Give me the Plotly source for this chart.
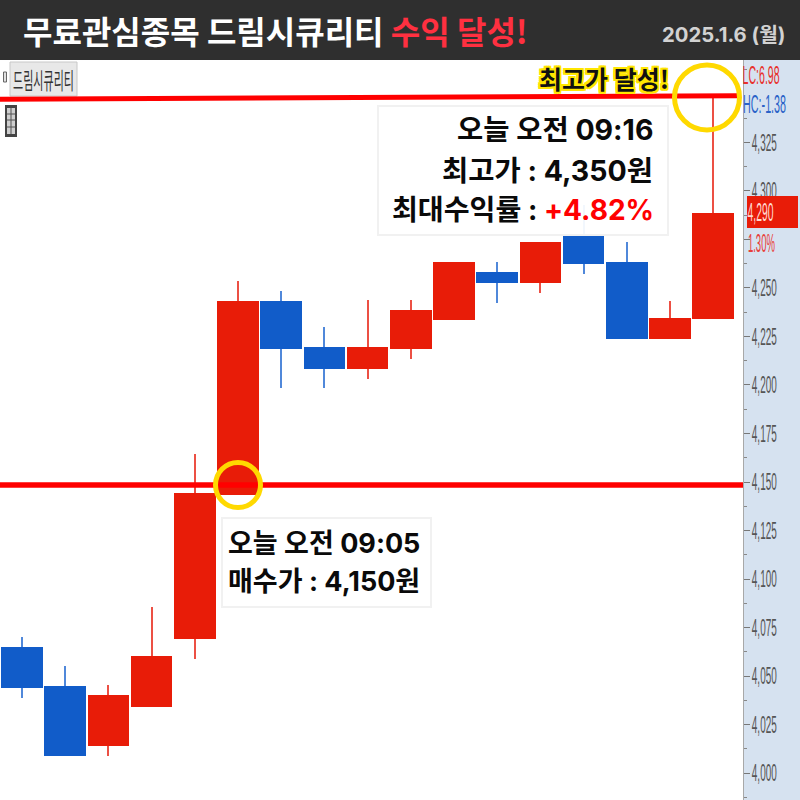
import plotly.graph_objects as go

# Candle data (prices)
opens  = [4064.9, 4044.8, 4013.9, 4034.0, 4069.1, 4143.3, 4243.3, 4219.6, 4208.2, 4218.6, 4233.5, 4258.2, 4252.6, 4277.3, 4263.4, 4223.7, 4234.0]
closes = [4043.8, 4008.8, 4040.2, 4060.3, 4144.3, 4243.3, 4218.6, 4208.2, 4219.6, 4238.7, 4263.4, 4252.6, 4273.7, 4262.4, 4223.7, 4234.5, 4288.7]
highs  = [4070.1, 4055.2, 4045.4, 4085.6, 4164.4, 4253.6, 4248.5, 4229.9, 4243.8, 4243.8, 4263.4, 4263.4, 4273.7, 4292.8, 4273.7, 4243.3, 4348.5]
lows   = [4038.7, 4008.8, 4008.8, 4034.0, 4058.8, 4143.3, 4198.5, 4198.5, 4203.1, 4213.4, 4233.5, 4242.3, 4247.4, 4257.2, 4223.7, 4223.7, 4234.0]

tick_vals = [4000, 4025, 4050, 4075, 4100, 4125, 4150, 4175, 4200, 4225, 4250, 4275, 4300, 4325]
tick_text = ["4,000", "4,025", "4,050", "4,075", "4,100", "4,125", "4,150", "4,175", "4,200", "4,225", "4,250", "", "4,300", "4,325"]

title_white = "무료관심종목 드림시큐리티"
title_red = "수익 달성!"
date_text = "2025.1.6 (월)"
stock_name = "드림시큐리티"
high_badge = "최고가 달성!"
high_lines = ["오늘 오전 09:16", "최고가 : 4,350원", "최대수익률 : <span style='color:#ff0000'>+4.82%</span>"]
buy_lines = ["오늘 오전 09:05", "매수가 : 4,150원"]

RED, BLUE = "#E81C08", "#115CC9"
WICK_RED, WICK_BLUE = "#EC5044", "#5088DA"
FONT = "Inter, 'Noto Sans CJK KR', sans-serif"
KR = "'Noto Sans CJK KR', sans-serif"
SANS = "'Liberation Sans', sans-serif"

xs = list(range(len(opens)))
up = [c >= o for o, c in zip(opens, closes)]

fig = go.Figure()
# wicks first, bodies on top
fig.add_trace(go.Bar(
    x=xs, y=[h - l for h, l in zip(highs, lows)], base=lows, width=0.02,
    marker=dict(color=[WICK_RED if u else WICK_BLUE for u in up], line_width=0),
    hoverinfo="skip", showlegend=False))
fig.add_trace(go.Bar(
    x=xs, y=[abs(c - o) for o, c in zip(opens, closes)], base=[min(o, c) for o, c in zip(opens, closes)], width=0.965,
    marker=dict(color=[RED if u else BLUE for u in up], line_width=0),
    hoverinfo="skip", showlegend=False))


def px(x):
    return x / 800


def py(y):
    return 1 - y / 800


def rect(x0, y0, x1, y1, fill, line=None, lw=0):
    return dict(type="rect", xref="paper", yref="paper", x0=px(x0), x1=px(x1), y0=py(y0), y1=py(y1),
                fillcolor=fill, line=dict(color=line or fill, width=lw), layer="above")


def seg(x0, y0, x1, y1, color, lw):
    return dict(type="line", xref="paper", yref="paper", x0=px(x0), x1=px(x1), y0=py(y0), y1=py(y1),
                line=dict(color=color, width=lw), layer="above")


def circ(cx, cy, r, color, lw):
    return dict(type="circle", xref="paper", yref="paper", x0=px(cx - r), x1=px(cx + r), y0=py(cy - r), y1=py(cy + r),
                line=dict(color=color, width=lw), fillcolor="rgba(0,0,0,0)", layer="above")


shapes = [
    rect(0, 0, 800, 60, "#2F2F2F"),
    rect(10, 62, 77, 96, "#E8E8E8", "#C8C8C8", 1),
    rect(3.5, 72, 6.5, 82, "#E0E0E0", "#666666", 1),
    rect(5, 105, 17, 137, "#444444"),
    rect(7, 108, 15, 134, "#CFCFCF"),
    seg(7, 114, 15, 114, "#555555", 1), seg(7, 120, 15, 120, "#555555", 1), seg(7, 127, 15, 127, "#555555", 1),
    seg(11, 108, 11, 134, "#555555", 1),
    rect(378, 106, 668, 235, "rgba(255,255,255,0.93)", "#F1F1F1", 2),
    rect(222, 518, 431, 607, "#FFFFFF", "#F1F1F1", 2),
    seg(0, 99.3, 737, 95.7, "#FF0000", 5),
    seg(0, 485, 743, 485, "#FF0000", 5.5),
    circ(238, 485, 22.5, "#FFD900", 5),
    circ(707, 97.5, 32.5, "#FFD900", 5),
    rect(747, 196, 798, 228, "#E81C08"),
]

anns = []


def text(x, y, s, size, color, anchor="left", family=FONT, **font_extra):
    anns.append(dict(xref="paper", yref="paper", x=px(x), y=py(y), text=s, showarrow=False,
                     xanchor=anchor, yanchor="middle", align=anchor,
                     font=dict(family=family, size=size, color=color, **font_extra)))


text(21, 30, f"<b>{title_white} <span style='color:#FF3040'>{title_red}</span></b>", 32, "#FFFFFF", family=KR)
text(788, 35, f"<b>{date_text}</b>", 20.3, "#D2D2D2", "right", family=FONT)
text(43.5, 79, stock_name, 23, "#333333", "center", family=KR)
halo = ",".join(f"{a}px {b}px 0 #FFE600" for a, b in [(2, 0), (-2, 0), (0, 2), (0, -2), (2, 2), (-2, -2), (2, -2), (-2, 2)])
text(671, 78, f"<b>{high_badge}</b>", 25, "#111111", "right", family=KR, shadow=halo)
for x, y, size, s in zip([655, 655, 656], [130, 170, 210], [28.5, 28.5, 28.1], high_lines):
    text(x, y, f"<b>{s}</b>", size, "#0A0A0A", "right")
for y, s in zip([543, 581], buy_lines):
    text(226, y, f"<b>{s}</b>", 27, "#0A0A0A", "left")
text(782, 75, "LC:6.98", 25, "#E8302A", "right", family=SANS)
text(788, 104, "HC:-1.38", 25, "#2A62C8", "right", family=SANS)
text(776, 212, "4,290", 25, "#FFD8D0", "right", family=SANS)
text(777, 243, "1.30%", 25, "#E8403A", "right", family=SANS)

fig.update_layout(
    width=800, height=800, margin=dict(l=0, r=0, t=0, b=0, autoexpand=False), autosize=False,
    paper_bgcolor="#D6E2F0", plot_bgcolor="#FFFFFF", barmode="overlay",
    bargap=0, showlegend=False, shapes=shapes, annotations=anns,
    xaxis=dict(domain=[0, 743 / 800], range=[-0.509, 16.69], showgrid=False, zeroline=False, automargin=False,
               showticklabels=False, ticks="", showline=False, fixedrange=True),
    yaxis=dict(domain=[0, 740 / 800], range=[3986.1, 4367.5], side="right", showgrid=False, zeroline=False,
               automargin=False,
               tickmode="array", tickvals=tick_vals, ticktext=tick_text, ticks="outside", ticklen=6,
               ticklabelstandoff=-3,
               tickcolor="#777777", tickwidth=1, showline=True, linecolor="#A8A8A8", linewidth=1,
               tickfont=dict(family=SANS, size=24, color="#555555"), fixedrange=True,
               minor=dict(tickmode="linear", tick0=4012.5, dtick=25, ticks="outside", ticklen=3, tickcolor="#888888")),
)

# Page without body margin; the condensed chart labels are squeezed horizontally around their anchor
post = (
    "document.body.style.margin='0';document.body.style.overflow='hidden';"
    "function squeeze(t,w){var len=t.getComputedTextLength();if(!len){return;}"
    "var s=w/len,x=parseFloat(t.getAttribute('x'))||0,old=t.getAttribute('transform')||'';"
    "t.setAttribute('transform',old+' translate('+x+',0) scale('+s+',1) translate('+(-x)+',0)');}"
    "document.querySelectorAll('.ytick text').forEach(function(t){squeeze(t,25);});"
    "var widths={'LC:6.98':37,'HC:-1.38':43,'4,290':26,'1.30%':27,'" + stock_name + "':61};"
    "document.querySelectorAll('.annotation-text').forEach(function(t){var w=widths[t.textContent];if(w){squeeze(t,w);}});"
)
fig.write_html("out.html", config=dict(displayModeBar=False), post_script=post)
